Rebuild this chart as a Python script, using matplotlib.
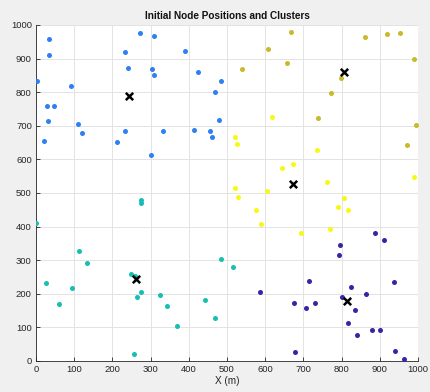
import matplotlib
matplotlib.use("Agg")
import matplotlib.pyplot as plt

plt.rcParams['font.family'] = ['Liberation Sans', 'DejaVu Sans']

# Cluster 1 (blue)
c1_x = [3, 33, 34, 29, 48, 32, 21, 92, 111, 121, 213, 233, 233, 240, 272, 310, 303, 310, 301, 333,
        390, 423, 414, 456, 461, 468, 484, 478]
c1_y = [832, 957, 911, 758, 759, 714, 656, 817, 705, 679, 651, 686, 921, 871, 976, 967, 870, 850, 612, 686,
        923, 860, 687, 686, 668, 800, 834, 716]
# Cluster 2 (teal)
c2_x = [276, 275, 1, 112, 134, 27, 94, 59, 248, 259, 275, 264, 325, 343, 369, 257, 443, 468, 485, 515]
c2_y = [480, 469, 412, 328, 293, 231, 218, 169, 258, 253, 204, 191, 197, 164, 105, 20, 181, 129, 305, 281]
# Cluster 3 (purple)
c3_x = [888, 910, 795, 794, 715, 825, 937, 587, 865, 800, 675, 731, 706, 835, 817, 879, 901, 840, 679, 941, 964]
c3_y = [382, 361, 344, 316, 237, 221, 235, 204, 199, 190, 173, 173, 157, 152, 114, 92, 91, 78, 27, 31, 6]
# Cluster 4 (olive)
c4_x = [667, 860, 920, 953, 608, 658, 538, 990, 799, 771, 739, 996, 971]
c4_y = [980, 965, 972, 975, 928, 886, 870, 899, 843, 798, 722, 702, 642]
# Cluster 5 (yellow)
c5_x = [619, 521, 525, 736, 674, 644, 521, 606, 763, 989, 530, 805, 576, 790, 818, 590, 695, 769]
c5_y = [726, 668, 645, 627, 587, 574, 515, 507, 534, 547, 489, 485, 449, 459, 450, 408, 382, 394]

# Cluster centres
cent_x = [243, 261, 814, 805, 674]
cent_y = [788, 245, 180, 861, 526]

xticks = [0, 100, 200, 300, 400, 500, 600, 700, 800, 900, 1000]
yticks = [0, 100, 200, 300, 400, 500, 600, 700, 800, 900, 1000]

colors = ['#2f80f2', '#18bdb3', '#3b23a5', '#c9ba2a', '#f7f912']
clusters = [(c1_x, c1_y), (c2_x, c2_y), (c3_x, c3_y), (c4_x, c4_y), (c5_x, c5_y)]

fig = plt.figure(figsize=(4.3, 3.92), dpi=100, facecolor='#f0f0f0')
ax = fig.add_axes([36/430, 31/392, 382/430, 336/392])
ax.set_facecolor('white')

for (xs, ys), col in zip(clusters, colors):
    ax.scatter(xs, ys, s=13, color=col, linewidths=0, zorder=3)

ax.scatter(cent_x, cent_y, marker='x', s=28, color='black', linewidths=1.8, zorder=4)

ax.set_xlim(0, 1000)
ax.set_ylim(0, 1000)
ax.set_xticks(xticks)
ax.set_yticks(yticks)
ax.grid(True, color='#e3e3e3', linewidth=0.7, zorder=0)
ax.set_axisbelow(True)
for s in ['top', 'right']:
    ax.spines[s].set_visible(False)
for s in ['left', 'bottom']:
    ax.spines[s].set_color('#262626')
    ax.spines[s].set_linewidth(0.6)
ax.tick_params(direction='in', length=3, width=0.6, colors='#262626', labelsize=6.8, pad=3)
ax.set_xlabel('X (m)', fontsize=7.2, color='#262626', labelpad=1)
ax.set_title('Initial Node Positions and Clusters', fontsize=7.2, fontweight='bold', color='#111111', pad=4)

fig.savefig('out.png', dpi=100, facecolor=fig.get_facecolor())
